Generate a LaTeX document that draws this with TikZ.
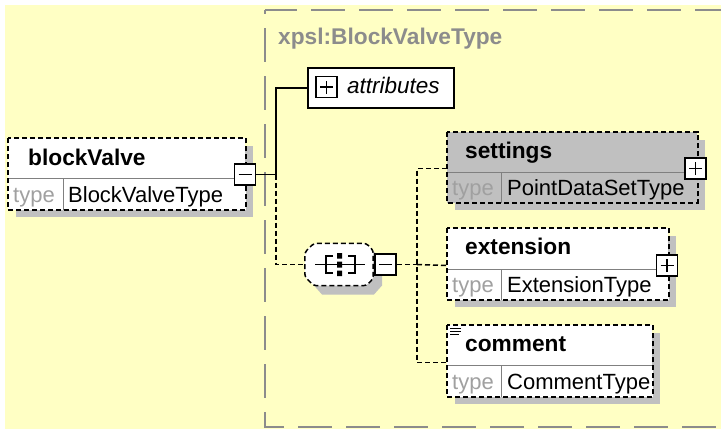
\documentclass[tikz,border=0pt]{standalone}
\usepackage{fontspec}
\setmainfont{Liberation Sans}
\definecolor{bgyellow}{HTML}{FFFFC4}
\definecolor{shadowgray}{HTML}{C0C0C0}
\definecolor{typegray}{HTML}{A0A0A0}
\definecolor{grpgray}{HTML}{8C8C8C}
\begin{document}
\begin{tikzpicture}[x=1pt,y=-1pt,
  shadowfill/.style={fill=shadowgray},
  hdr/.style={fill=white, minimum height=40pt, inner sep=0pt, anchor=north west},
  tcell/.style={fill=white, minimum height=31pt, minimum width=55pt, inner sep=0pt, anchor=north west},
  vcell/.style={fill=white, minimum height=31pt, inner sep=0pt, anchor=north west},
  innerline/.style={draw=gray, line width=0.9pt},
  elemline/.style={draw=black, line width=1.5pt, dash pattern=on 5pt off 3pt},
  solidconn/.style={draw=black, line width=1.5pt},
  dashconn/.style={draw=black, line width=1.5pt, dash pattern=on 5pt off 3pt},
  pmbox/.style={draw=black, fill=white, line width=1.6pt, minimum size=21pt, inner sep=0pt},
  minusbox/.style={pmbox, path picture={\draw[line width=1.7pt] ([xshift=-6.5pt]path picture bounding box.center) -- ([xshift=6.5pt]path picture bounding box.center);}},
  plusbox/.style={pmbox, path picture={\draw[line width=1.7pt] ([xshift=-6.5pt]path picture bounding box.center) -- ([xshift=6.5pt]path picture bounding box.center) ([yshift=-6.5pt]path picture bounding box.center) -- ([yshift=6.5pt]path picture bounding box.center);}},
  nametext/.style={anchor=base west, inner sep=0pt, font=\fontsize{22.7}{26}\selectfont\bfseries},
  typetext/.style={anchor=base west, inner sep=0pt, text=typegray, font=\fontsize{22}{25}\selectfont},
  valtext/.style={anchor=base west, inner sep=0pt, font=\fontsize{22}{25}\selectfont}
]
\useasboundingbox (0,0) rectangle (721,429);
\fill[white] (0,0) rectangle (721,429);
\fill[bgyellow] (5,5) rectangle (721,429);

% group box
\draw[grpgray, line width=1.2pt, dash pattern=on 34pt off 14pt, dash phase=2pt] (265,10) -- (721,10);
\draw[grpgray, line width=1.2pt, dash pattern=on 34pt off 14pt, dash phase=30pt] (265,10) -- (265,427) -- (721,427);
\node[anchor=base west, inner sep=0pt, text=grpgray, font=\fontsize{22.7}{26}\selectfont\bfseries] (grp) at (278,44) {xpsl:BlockValveType};

% blockValve element
\fill[shadowfill] (16,146) rectangle (253,217);
\node[hdr, minimum width=237pt] (bv) at (8,138) {};
\node[tcell] (bvt) at (bv.south west) {};
\node[vcell, minimum width=182pt] (bvv) at (bvt.north east) {};
\draw[innerline] (bv.south west) -- (bv.south east);
\draw[innerline] (bvt.north east) -- (bvt.south east);
\draw[elemline] (bv.north west) rectangle (bvv.south east);
\node[nametext] (bvn) at (28,165) {blockValve};
\node[typetext] (bvtt) at (13,202) {type};
\node[valtext] (bvvt) at (68,202) {BlockValveType};
\node[minusbox] (bvm) at (245,174.5) {};

% attributes
\node[draw=black, fill=white, line width=1.5pt, minimum width=146pt, minimum height=40pt, inner sep=0pt, anchor=north west] (attr) at (307,67) {};
\node[plusbox] (attrp) at (326.5,87) {};
\node[anchor=base west, inner sep=0pt, font=\fontsize{22.5}{25}\selectfont\itshape] (attrt) at (347,93) {attributes};

% sequence compositor
\node[minimum width=68pt, minimum height=42pt, inner sep=0pt] (seq) at (339,264.5) {};
\fill[shadowfill] (322,251.5) -- (374,251.5) -- (382,260.5) -- (382,285.5) -- (374,294.5) -- (322,294.5) -- (314,285.5) -- (314,260.5) -- cycle;
\draw[dashconn, fill=white, rounded corners=3pt] ([xshift=9pt]seq.north west) -- ([xshift=-7pt]seq.north east) -- ([yshift=-7pt]seq.north east) -- ([yshift=7pt]seq.south east) -- ([xshift=-7pt]seq.south east) -- ([xshift=9pt]seq.south west) -- ([yshift=9pt]seq.south west) -- ([yshift=-9pt]seq.north west) -- cycle;
\draw[line width=1.5pt] (315,264.5) -- (365,264.5);
\draw[line width=1.5pt] (333,256) -- (326,256) -- (326,273) -- (333,273);
\draw[line width=1.5pt] (348,256) -- (355,256) -- (355,273) -- (348,273);
\fill[black] (337,253) rectangle (342,258.5) (337,261.5) rectangle (342,267.5) (337,270.5) rectangle (342,276);
\node[minusbox] (seqm) at (385.5,264.5) {};

% settings element
\fill[shadowfill] (455,140) rectangle (705,210);
\node[hdr, fill=shadowgray, minimum width=250pt] (set) at (447,132) {};
\node[tcell, fill=shadowgray, minimum height=30pt, minimum width=54pt] (sett) at (set.south west) {};
\node[vcell, fill=shadowgray, minimum height=30pt, minimum width=196pt] (setv) at (sett.north east) {};
\draw[innerline] (set.south west) -- (set.south east);
\draw[innerline] (sett.north east) -- (sett.south east);
\draw[elemline] (set.north west) rectangle (setv.south east);
\node[nametext] (setn) at (465,158.5) {settings};
\node[typetext] (settt) at (452,195) {type};
\node[valtext] (setvt) at (507,195) {PointDataSetType};
\node[plusbox] (setp) at (695.5,168.5) {};

% extension element
\fill[shadowfill] (455,236) rectangle (676,307);
\node[hdr, minimum width=221pt, minimum height=41pt] (ext) at (447,228) {};
\node[tcell, minimum height=30pt, minimum width=54pt] (extt) at (ext.south west) {};
\node[vcell, minimum height=30pt, minimum width=167pt] (extv) at (extt.north east) {};
\draw[innerline] (ext.south west) -- (ext.south east);
\draw[innerline] (extt.north east) -- (extt.south east);
\draw[elemline] (ext.north west) rectangle (extv.south east);
\node[nametext] (extn) at (465,254.5) {extension};
\node[typetext] (exttt) at (452,292.5) {type};
\node[valtext] (extvt) at (507,292.5) {ExtensionType};
\node[plusbox] (extp) at (667,265.5) {};

% comment element
\fill[shadowfill] (455,333) rectangle (660,404);
\node[hdr, minimum width=205pt] (com) at (447,325) {};
\node[tcell, minimum width=54pt] (comt) at (com.south west) {};
\node[vcell, minimum width=151pt] (comv) at (comt.north east) {};
\draw[innerline] (com.south west) -- (com.south east);
\draw[innerline] (comt.north east) -- (comt.south east);
\draw[elemline] (com.north west) rectangle (comv.south east);
\node[nametext] (comn) at (465,351.5) {comment};
\node[typetext] (comtt) at (452,389.5) {type};
\node[valtext] (comvt) at (507,389.5) {CommentType};
\draw[line width=0.9pt] (450,328) -- (461,328) (450,331) -- (461,331) (450,334) -- (459,334);

% connectors
\coordinate (j1) at (276,174.5);
\coordinate (j2) at (417,264.5);
\draw[solidconn] (bvm.east) -- (j1) |- (attr.west);
\draw[dashconn] (j1) |- (seq.west);
\draw[solidconn] (seq.east) -- (seqm.west);
\draw[dashconn] (seqm.east) -- (j2);
\draw[dashconn] (set.west |- setp.center) -| (j2) |- ([yshift=3pt]com.south west);
\draw[dashconn] (j2) -- (ext.west |- extp.center);
\end{tikzpicture}
\end{document}
